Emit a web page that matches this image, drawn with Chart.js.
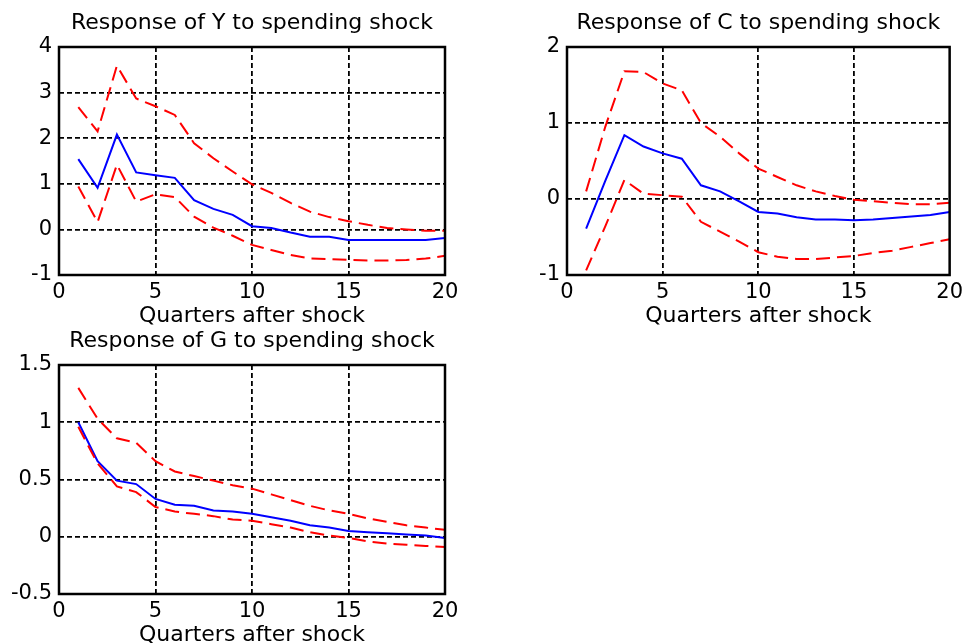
<!DOCTYPE html>
<html>
<head>
<meta charset="utf-8">
<script src="https://cdn.jsdelivr.net/npm/chart.js@4/dist/chart.umd.min.js"></script>
<style>
  html, body { margin: 0; padding: 0; background: #fff; overflow: hidden; }
  body { width: 968px; height: 643px; position: relative; }
  .panel { position: absolute; }
</style>
</head>
<body>
<div class="panel" style="left:0px;top:0px"><canvas id="chartY" width="480" height="330"></canvas></div>
<div class="panel" style="left:508px;top:0px"><canvas id="chartC" width="460" height="330"></canvas></div>
<div class="panel" style="left:0px;top:318px"><canvas id="chartG" width="480" height="331"></canvas></div>
<script>
// quarters after the shock
const quarters = [1, 2, 3, 4, 5, 6, 7, 8, 9, 10, 11, 12, 13, 14, 15, 16, 17, 18, 19, 20];
const xTicks = [0, 5, 10, 15, 20];

// Y response and bands
const yResp  = [1.54, 0.91, 2.08, 1.25, 1.19, 1.13, 0.64, 0.45, 0.32, 0.07, 0.03, -0.07, -0.16, -0.16, -0.23, -0.23, -0.23, -0.23, -0.23, -0.19];
const yUpper = [2.68, 2.15, 3.59, 2.87, 2.70, 2.51, 1.89, 1.56, 1.27, 0.99, 0.80, 0.58, 0.39, 0.27, 0.18, 0.10, 0.03, 0.00, -0.03, -0.03];
const yLower = [0.94, 0.16, 1.42, 0.61, 0.77, 0.71, 0.28, 0.04, -0.14, -0.34, -0.45, -0.56, -0.64, -0.65, -0.67, -0.68, -0.68, -0.67, -0.64, -0.58];
const yTicks = [-1, 0, 1, 2, 3, 4];

// C response and bands
const cResp  = [-0.39, 0.24, 0.84, 0.69, 0.60, 0.53, 0.18, 0.10, -0.03, -0.17, -0.19, -0.24, -0.27, -0.27, -0.28, -0.27, -0.25, -0.23, -0.21, -0.17];
const cUpper = [0.10, 0.95, 1.68, 1.67, 1.52, 1.43, 1.00, 0.82, 0.60, 0.40, 0.29, 0.18, 0.10, 0.04, -0.01, -0.03, -0.05, -0.07, -0.07, -0.05];
const cLower = [-0.94, -0.36, 0.25, 0.07, 0.05, 0.03, -0.30, -0.43, -0.56, -0.70, -0.76, -0.79, -0.79, -0.77, -0.75, -0.71, -0.68, -0.63, -0.58, -0.53];
const cTicks = [-1, 0, 1, 2];

// G response and bands
const gResp  = [1.00, 0.66, 0.49, 0.46, 0.33, 0.28, 0.27, 0.23, 0.22, 0.20, 0.17, 0.14, 0.10, 0.08, 0.05, 0.04, 0.03, 0.02, 0.01, -0.01];
const gUpper = [1.30, 1.03, 0.86, 0.82, 0.66, 0.57, 0.53, 0.49, 0.45, 0.42, 0.37, 0.32, 0.27, 0.23, 0.20, 0.16, 0.13, 0.10, 0.08, 0.06];
const gLower = [0.96, 0.64, 0.44, 0.39, 0.26, 0.22, 0.20, 0.18, 0.15, 0.14, 0.11, 0.08, 0.04, 0.01, -0.01, -0.04, -0.06, -0.07, -0.08, -0.09];
const gTicks = [-0.5, 0, 0.5, 1, 1.5];

const FONT = "'DejaVu Sans', 'Liberation Sans', Arial, sans-serif";

// solid box round the plot area, like the matlab axes
const framePlugin = {
  id: 'frame',
  afterDraw(chart) {
    const a = chart.chartArea;
    const ctx = chart.ctx;
    ctx.save();
    ctx.strokeStyle = '#000';
    ctx.lineWidth = 2.5;
    ctx.setLineDash([]);
    ctx.strokeRect(a.left, a.top, a.right - a.left, a.bottom - a.top);
    ctx.restore();
  }
};

function toPoints(values) {
  return quarters.map((q, i) => ({ x: q, y: values[i] }));
}

function makeChart(id, title, resp, upper, lower, ticks, padRight) {
  const lo = ticks[0];
  const hi = ticks[ticks.length - 1];
  const inner = (c, a, b) => (c.tick && (c.tick.value === a || c.tick.value === b)) ? 'rgba(0,0,0,0)' : '#000';
  const band = (vals) => ({
    data: toPoints(vals),
    borderColor: '#ff0000',
    borderWidth: 2,
    borderDash: [14, 7],
    pointRadius: 0,
    fill: false,
    tension: 0
  });

  return new Chart(document.getElementById(id), {
    type: 'line',
    data: {
      datasets: [
        band(upper),
        band(lower),
        {
          data: toPoints(resp),
          borderColor: '#0000ff',
          borderWidth: 2,
          pointRadius: 0,
          fill: false,
          tension: 0
        }
      ]
    },
    options: {
      responsive: false,
      animation: false,
      layout: { padding: { left: 0, right: padRight, top: 0, bottom: 0 } },
      plugins: {
        legend: { display: false },
        tooltip: { enabled: false },
        title: {
          display: true,
          text: title,
          fullSize: false,
          color: '#000',
          font: { family: FONT, size: 22, weight: 'normal' },
          padding: { top: 10.5, bottom: 10.1 }
        }
      },
      scales: {
        x: {
          type: 'linear',
          min: 0,
          max: 20,
          afterBuildTicks: (s) => { s.ticks = xTicks.map(v => ({ value: v })); },
          afterFit: (s) => { s.height = 55; },
          ticks: { color: '#000', padding: 5, maxRotation: 0, font: { family: FONT, size: 21 } },
          grid: { color: (c) => inner(c, 0, 20), lineWidth: 1.8, drawTicks: false },
          border: { display: false, dash: [5, 3] },
          title: {
            display: true,
            text: 'Quarters after shock',
            color: '#000',
            font: { family: FONT, size: 22 },
            padding: { top: 0, bottom: 1 }
          }
        },
        y: {
          min: lo,
          max: hi,
          afterBuildTicks: (s) => { s.ticks = ticks.map(v => ({ value: v })); },
          afterFit: (s) => { s.width = 59; },
          ticks: { color: '#000', padding: 7, font: { family: FONT, size: 21 }, callback: (v) => String(v) },
          grid: { color: (c) => inner(c, lo, hi), lineWidth: 1.8, drawTicks: false },
          border: { display: false, dash: [5, 3] }
        }
      }
    },
    plugins: [framePlugin]
  });
}

makeChart('chartY', 'Response of Y to spending shock', yResp, yUpper, yLower, yTicks, 35);
makeChart('chartC', 'Response of C to spending shock', cResp, cUpper, cLower, cTicks, 15);
makeChart('chartG', 'Response of G to spending shock', gResp, gUpper, gLower, gTicks, 35);
</script>
</body>
</html>
